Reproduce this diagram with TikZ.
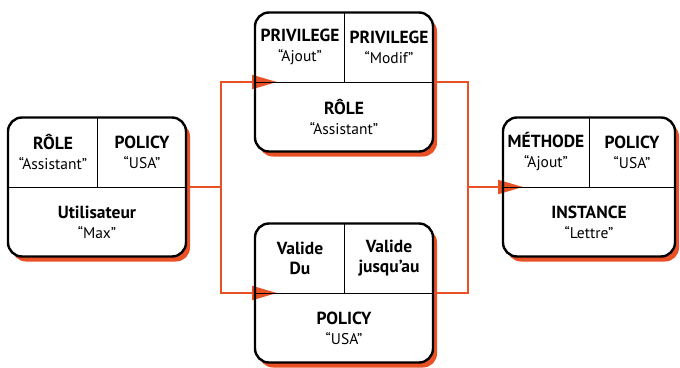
\documentclass[tikz,border=0pt]{standalone}
\usepackage{fontspec}
\setmainfont{PT Sans}
\usetikzlibrary{arrows.meta,shadows}
\definecolor{rouge}{RGB}{232,80,38}
\newcommand\titre[1]{{\fontsize{17.5}{20}\selectfont\bfseries #1}}

\begin{document}
\begin{tikzpicture}[x=1pt,y=-1pt,>={Triangle[length=25pt,width=14pt]},
  boite/.style={fill=white,rounded corners=14pt,outer sep=0pt,minimum width=178pt,minimum height=139pt,
    drop shadow={shadow xshift=4pt,shadow yshift=-5pt,fill=rouge,opacity=1}},
  lien/.style={draw=rouge,line width=2pt},
  txt/.style={align=center,font=\fontsize{15.5}{20}\selectfont}]
\useasboundingbox (0,0) rectangle (680,367);
% les quatre boites
\node[boite] (u) at (97,187) {};
\node[boite] (r) at (344,82) {};
\node[boite] (p) at (344,293) {};
\node[boite,minimum width=172pt] (i) at (589,187) {};
% liens
\coordinate (j1) at (221,187);
\coordinate (j2) at (468,187);
\draw[lien] (u.east) -- (j1);
\draw[lien,->,shorten >=-22pt] (j1) |- (r.west);
\draw[lien,->,shorten >=-22pt] (j1) |- (p.west);
\draw[lien] (r.east) -| (j2) |- (p.east);
\draw[lien,->,shorten >=-20pt] (j2) -- (i.west);
% bords et cases
\foreach \n in {u,r,p,i} {
  \draw[line width=2.4pt,rounded corners=14pt] (\n.north west) rectangle (\n.south east);
  \draw[line width=1pt] (\n.west) -- (\n.east) (\n.north) -- (\n.center);
}
\node[txt] at (53,152) {\titre{RÔLE}\\“Assistant”};
\node[txt] at (142,152) {\titre{POLICY}\\“USA”};
\node[txt] at (97,222) {\titre{Utilisateur}\\“Max”};
\node[txt] at (300,47) {\titre{PRIVILEGE}\\“Ajout”};
\node[txt] at (389,47) {\titre{PRIVILEGE}\\“Modif”};
\node[txt] at (344,117) {\titre{RÔLE}\\“Assistant”};
\node[txt] at (300,258) {\titre{Valide}\\\titre{Du}};
\node[txt] at (389,258) {\titre{Valide}\\\titre{jusqu’au}};
\node[txt] at (344,328) {\titre{POLICY}\\“USA”};
\node[txt] at (546,152) {\titre{MÉTHODE}\\“Ajout”};
\node[txt] at (632,152) {\titre{POLICY}\\“USA”};
\node[txt] at (589,222) {\titre{INSTANCE}\\“Lettre”};
\end{tikzpicture}
\end{document}
